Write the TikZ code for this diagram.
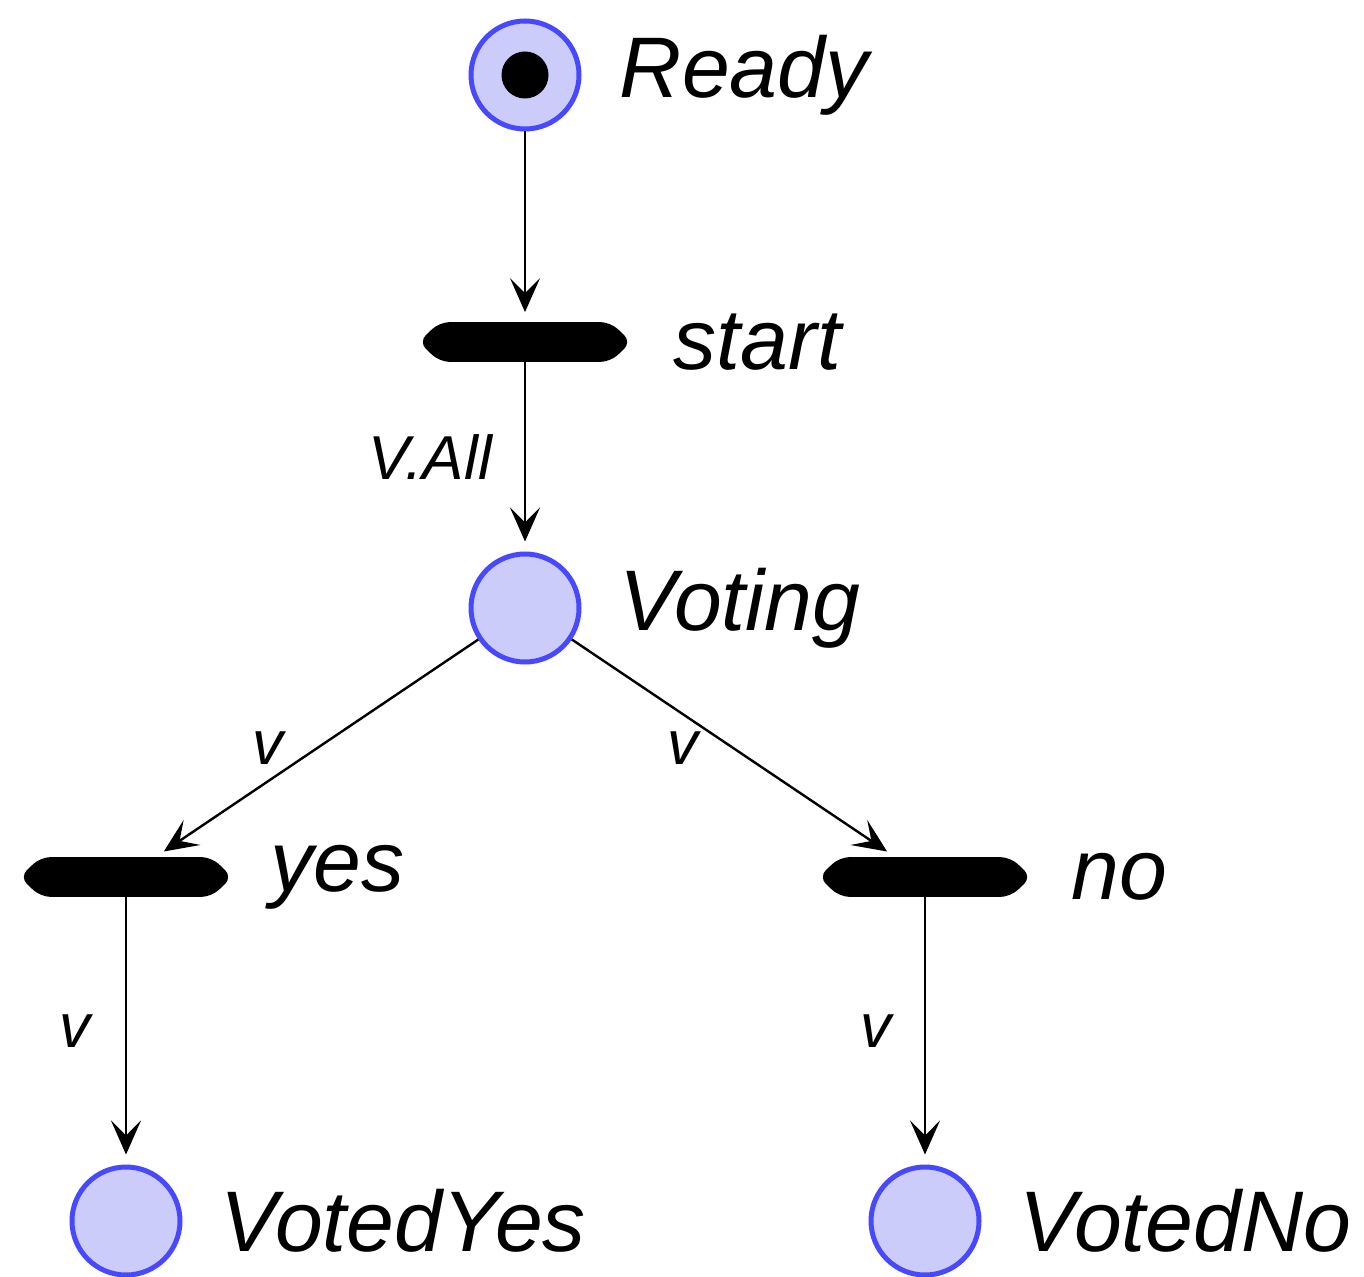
\documentclass[tikz,border=0pt]{standalone}
\usepackage{fontspec}
\setmainfont{Liberation Sans}
\usetikzlibrary{arrows.meta}
\definecolor{placefill}{RGB}{204,204,250}
\definecolor{placedraw}{RGB}{72,72,255}
\begin{document}
\begin{tikzpicture}[x=0.5pt,y=-0.5pt,
 place/.style={circle, draw=placedraw, fill=placefill, line width=2.5pt, minimum size=54pt, inner sep=0pt},
 trans/.style={rectangle, minimum width=106pt, minimum height=19.5pt, inner sep=0pt},
 plabel/.style={font=\fontsize{43}{50}\selectfont\itshape, inner sep=0pt},
 elabel/.style={font=\fontsize{31}{36}\selectfont\itshape, inner sep=0pt},
 arc/.style={line width=1.2pt, -{Stealth[length=17pt,width=15pt,inset=7.5pt]}, shorten >=5pt},
]
\useasboundingbox (0,0) rectangle (1364,1277);
\node[place, label={[plabel,label distance=19pt]0:Ready}] (ready) at (525,75) {};
\node[circle, fill=black, minimum size=23.5pt, inner sep=0pt] (token) at (ready) {};
\node[trans, label={[plabel,label distance=21pt]0:start}] (start) at (525,342) {};
\node[place, label={[plabel,label distance=19pt]0:Voting}] (voting) at (525,608) {};
\node[trans, label={[plabel,label distance=19pt]0:yes}] (yes) at (126,877) {};
\node[trans, label={[plabel,label distance=20pt]0:no}] (no) at (925,877) {};
\node[place, label={[plabel,label distance=19pt]0:VotedYes}] (votedyes) at (126,1221) {};
\node[place, label={[plabel,label distance=19pt]0:VotedNo}] (votedno) at (925,1221) {};
\foreach \t in {start,yes,no}{
  \fill[black, rounded corners=5pt] (\t.west) -- ([xshift=10.5pt]\t.north west) -- ([xshift=-10.5pt]\t.north east) -- (\t.east) -- ([xshift=-10.5pt]\t.south east) -- ([xshift=10.5pt]\t.south west) -- cycle;
}
\draw[arc] (ready) -- (start);
\draw[arc] (start) -- node[elabel, left=16pt] {V.All} (voting);
\draw[arc] (voting) -- node[elabel, left=16pt] {v} (yes);
\draw[arc] (voting) -- node[elabel, left=17pt] {v} (no);
\draw[arc] (yes) -- node[elabel, left=17pt] {v} (votedyes);
\draw[arc] (no) -- node[elabel, left=16pt] {v} (votedno);
\end{tikzpicture}
\end{document}
